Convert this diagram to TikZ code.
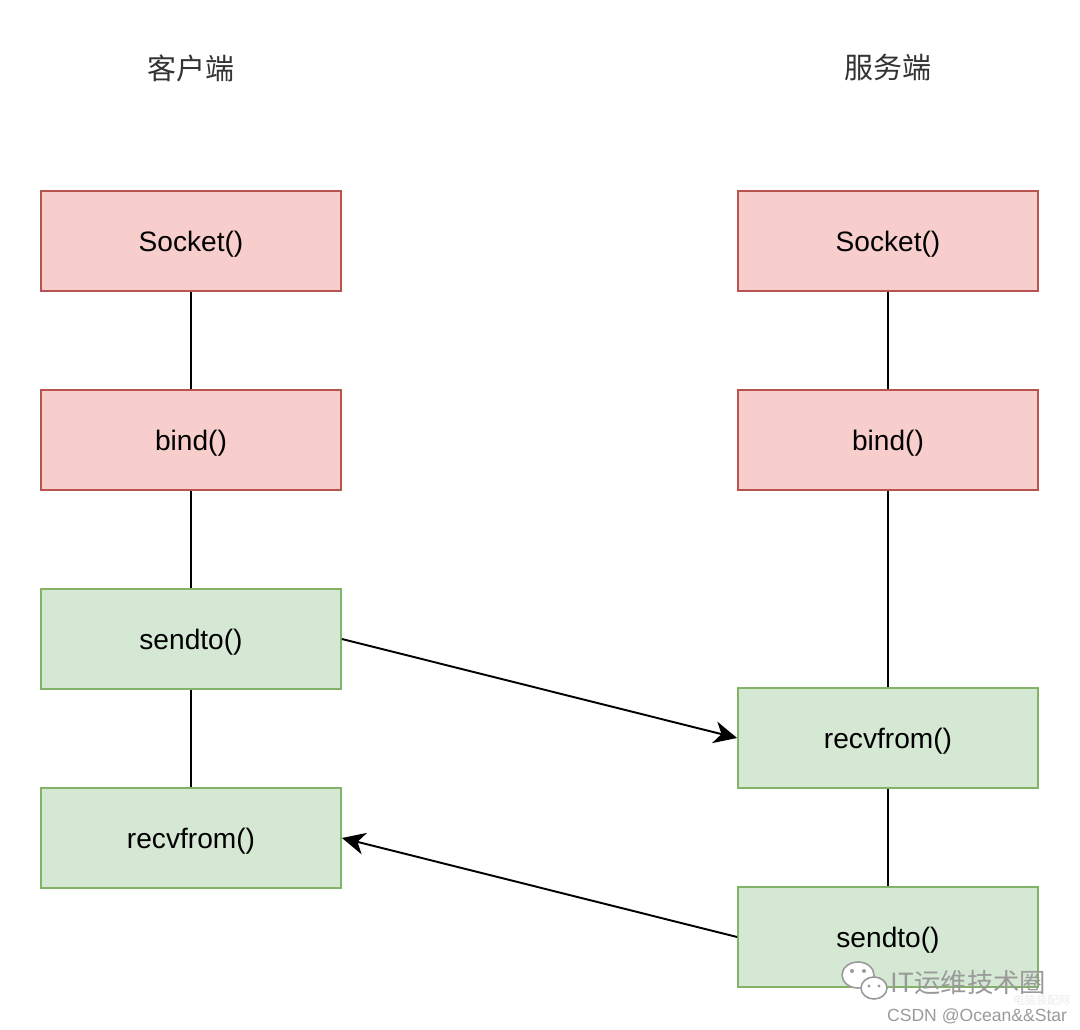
\documentclass[tikz,border=0pt]{standalone}
\usepackage{fontspec}
\setmainfont{Liberation Sans}
\newfontfamily\cjk{Noto Sans CJK SC}
\usetikzlibrary{arrows.meta,positioning}
\definecolor{redFill}{HTML}{F8CECC}
\definecolor{redLine}{HTML}{B85450}
\definecolor{greenFill}{HTML}{D5E8D4}
\definecolor{greenLine}{HTML}{82B366}
\definecolor{titleColor}{HTML}{333333}
\definecolor{markColor}{HTML}{9A9A9A}
\tikzset{setup state/.style={draw=redLine, fill=redFill, line width=1.1pt,
		minimum width=6cm, minimum height=2cm, text height=11.5pt, text depth=0pt,
		font=\fontsize{16}{19}\selectfont}}
\tikzset{data state/.style={setup state, draw=greenLine, fill=greenFill}}
\tikzset{side title/.style={text=titleColor, font=\cjk\fontsize{16.5}{20}\selectfont}}
\tikzset{mark text/.style={text=markColor, inner sep=0pt}}
\begin{document}
\begin{tikzpicture}[x=0.02cm, y=-0.02cm, line width=1.1pt,
	>={Stealth[length=0.46cm, width=0.44cm, inset=0.14cm]}]
	\useasboundingbox (0,0) rectangle (1080,1030);
	% titles
	\node[side title] at (191,68) (c_title) {客户端};
	\node[side title] at (888,68) (s_title) {服务端};
	% client side
	\node[setup state] at (191,241) (c_sock) {Socket()};
	\node[setup state] at (191,440) (c_bind) {bind()};
	\node[data state]  at (191,639) (c_send) {sendto()};
	\node[data state]  at (191,838) (c_recv) {recvfrom()};
	% server side
	\node[setup state] at (888,241) (s_sock) {Socket()};
	\node[setup state] at (888,440) (s_bind) {bind()};
	\node[data state]  at (888,738) (s_recv) {recvfrom()};
	\node[data state]  at (888,937) (s_send) {sendto()};
	% call order
	\path (c_sock) edge (c_bind);
	\path (c_bind) edge (c_send);
	\path (c_send) edge (c_recv);
	\path (s_sock) edge (s_bind);
	\path (s_bind) edge (s_recv);
	\path (s_recv) edge (s_send);
	% datagrams
	\path (c_send.east) edge[->] (s_recv.west);
	\path (s_send.west) edge[->] (c_recv.east);
	% watermark
	\draw[markColor, fill=white, line width=0.9pt] (858,975) ellipse (16 and 13);
	\draw[markColor, fill=white, line width=0.9pt] (874,988) ellipse (13 and 11);
	\fill[markColor] (852,971) circle (2) (864,971) circle (2)
		(869,986) circle (1.7) (879,986) circle (1.7);
	\node[mark text, anchor=west, font=\cjk\fontsize{15}{18}\selectfont] at (890,983) (wm_name) {IT运维技术圈};
	\node[mark text, text=black!8, anchor=west, font=\cjk\fontsize{6.5}{8}\selectfont] at (1012,1000) (wm_site) {电脑装配网};
	\node[mark text, anchor=east, font=\fontsize{10}{12}\selectfont] at (1068,1016) (wm_csdn) {CSDN @Ocean\&\&Star};
\end{tikzpicture}
\end{document}
